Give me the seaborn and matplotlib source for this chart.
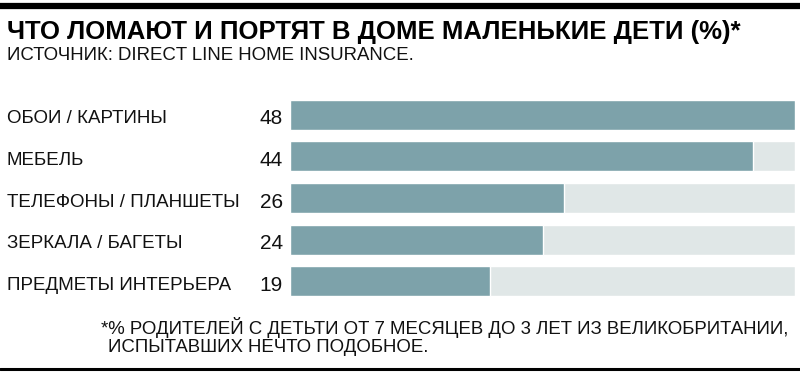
import numpy as np
import pandas as pd
import matplotlib
matplotlib.use("Agg")
import matplotlib.pyplot as plt
import matplotlib.transforms as mtransforms
import seaborn as sns

# chart data
categories = ["ОБОИ / КАРТИНЫ", "МЕБЕЛЬ", "ТЕЛЕФОНЫ / ПЛАНШЕТЫ",
              "ЗЕРКАЛА / БАГЕТЫ", "ПРЕДМЕТЫ ИНТЕРЬЕРА"]
values = [48, 44, 26, 24, 19]
scale_max = 48

title = "ЧТО ЛОМАЮТ И ПОРТЯТ В ДОМЕ МАЛЕНЬКИЕ ДЕТИ (%)*"
subtitle = "ИСТОЧНИК: DIRECT LINE HOME INSURANCE."
footnote = ["*% РОДИТЕЛЕЙ С ДЕТЬТИ ОТ 7 МЕСЯЦЕВ ДО 3 ЛЕТ ИЗ ВЕЛИКОБРИТАНИИ,",
            "ИСПЫТАВШИХ НЕЧТО ПОДОБНОЕ."]

sns.set_style("white")
plt.rcParams['font.family'] = ['Liberation Sans', 'DejaVu Sans']

df = pd.DataFrame({"cat": categories, "val": values,
                   "full": [scale_max] * len(categories)})

W, H = 800, 374
fig = plt.figure(figsize=(W / 100, H / 100), dpi=100)

# axes placed in pixel coordinates of the original
left, right, top, bottom = 290, 795, 94, 302
ax = fig.add_axes([left / W, 1 - bottom / H, (right - left) / W, (bottom - top) / H])

sns.barplot(data=df, x="full", y="cat", orient="h", color="#e0e7e7",
            width=0.72, saturation=1, ax=ax)
sns.barplot(data=df, x="val", y="cat", orient="h", color="#7da2aa",
            width=0.72, saturation=1, ax=ax)
ax.set_xlim(0, scale_max)
ax.set_ylim(len(categories) - 0.5, -0.5)
ax.axis("off")

# labels and values at the left side
trans = mtransforms.blended_transform_factory(fig.transFigure, ax.transData)
for i, (c, v) in enumerate(zip(categories, values)):
    ax.text(7 / W, i + 0.05, c, transform=trans, ha="left", va="center_baseline",
            fontsize=13.5, color="#111111")
    ax.text(283 / W, i + 0.05, str(v), transform=trans, ha="right",
            va="center_baseline", fontsize=15, color="#111111")

# title block
fig.add_artist(plt.Line2D([0, 1], [1 - 6 / H, 1 - 6 / H], color="black",
                          linewidth=4.5, transform=fig.transFigure))
fig.text(7 / W, 1 - 29 / H, title, ha="left", va="center_baseline",
         fontsize=18.5, fontweight="bold", color="black")
fig.text(7 / W, 1 - 54 / H, subtitle, ha="left", va="center_baseline",
         fontsize=13.4, color="#111111")

# footnote
fig.text(101 / W, 1 - 325 / H, footnote[0], ha="left", va="center_baseline",
         fontsize=13.4, color="#111111")
fig.text(108 / W, 1 - 346 / H, footnote[1], ha="left", va="center_baseline",
         fontsize=13.4, color="#111111")
fig.add_artist(plt.Line2D([0, 1], [1 - 369 / H, 1 - 369 / H], color="black",
                          linewidth=2.2, transform=fig.transFigure))

fig.savefig("out.png", dpi=100)
